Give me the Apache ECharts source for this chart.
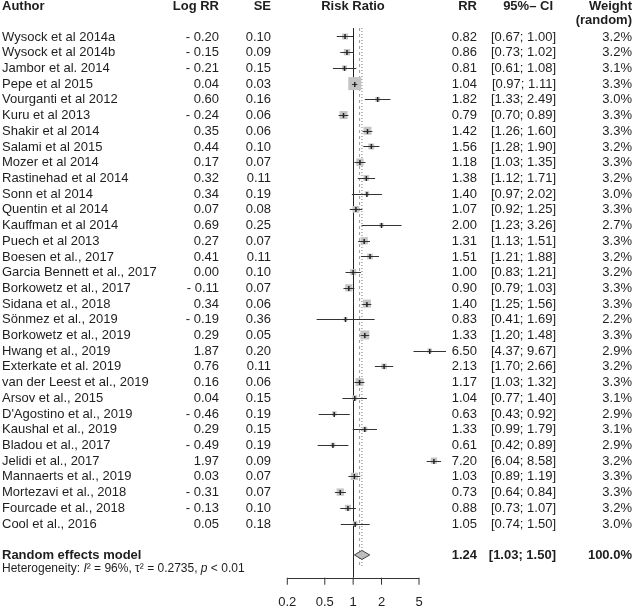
<!DOCTYPE html>
<html>
<head>
<meta charset="utf-8">
<script src="https://cdn.jsdelivr.net/npm/echarts@6/dist/echarts.min.js"></script>
<style>html,body{margin:0;padding:0;background:#fff}#c{width:633px;height:607px}</style>
</head>
<body>
<div id="c"></div>
<script>
const authors = ["Wysock et al 2014a","Wysock et al 2014b","Jambor et al. 2014","Pepe et al 2015","Vourganti et al 2012","Kuru et al 2013","Shakir et al 2014","Salami et al 2015","Mozer et al 2014","Rastinehad et al 2014","Sonn et al 2014","Quentin et al 2014","Kauffman et al 2014","Puech et al 2013","Boesen et al., 2017","Garcia Bennett et al., 2017","Borkowetz et al., 2017","Sidana et al., 2018","Sönmez et al., 2019","Borkowetz et al., 2019","Hwang et al., 2019","Exterkate et al. 2019","van der Leest et al., 2019","Arsov et al., 2015","D'Agostino et al., 2019","Kaushal et al., 2019","Bladou et al., 2017","Jelidi et al., 2017","Mannaerts et al., 2019","Mortezavi et al., 2018","Fourcade et al., 2018","Cool et al., 2016"];
const logRR = [-0.20,-0.15,-0.21,0.04,0.60,-0.24,0.35,0.44,0.17,0.32,0.34,0.07,0.69,0.27,0.41,0.00,-0.11,0.34,-0.19,0.29,1.87,0.76,0.16,0.04,-0.46,0.29,-0.49,1.97,0.03,-0.31,-0.13,0.05];
const seVals = [0.10,0.09,0.15,0.03,0.16,0.06,0.06,0.10,0.07,0.11,0.19,0.08,0.25,0.07,0.11,0.10,0.07,0.06,0.36,0.05,0.20,0.11,0.06,0.15,0.19,0.15,0.19,0.09,0.07,0.07,0.10,0.18];
const rrVals = [0.82,0.86,0.81,1.04,1.82,0.79,1.42,1.56,1.18,1.38,1.40,1.07,2.00,1.31,1.51,1.00,0.90,1.40,0.83,1.33,6.50,2.13,1.17,1.04,0.63,1.33,0.61,7.20,1.03,0.73,0.88,1.05];
const ciLow = [0.67,0.73,0.61,0.97,1.33,0.70,1.26,1.28,1.03,1.12,0.97,0.92,1.23,1.13,1.21,0.83,0.79,1.25,0.41,1.20,4.37,1.70,1.03,0.77,0.43,0.99,0.42,6.04,0.89,0.64,0.73,0.74];
const ciHigh = [1.00,1.02,1.08,1.11,2.49,0.89,1.60,1.90,1.35,1.71,2.02,1.25,3.26,1.51,1.88,1.21,1.03,1.56,1.69,1.48,9.67,2.66,1.32,1.40,0.92,1.79,0.89,8.58,1.19,0.84,1.07,1.50];
const weights = [3.2,3.2,3.1,3.3,3.0,3.3,3.3,3.2,3.3,3.2,3.0,3.3,2.7,3.3,3.2,3.2,3.3,3.3,2.2,3.3,2.9,3.2,3.3,3.1,2.9,3.1,2.9,3.2,3.3,3.3,3.2,3.0];
const pooled = {rr: 1.24, low: 1.03, high: 1.50, weight: 100.0};
const fixedLine = 1.17; // estimated from grey dashed line
const heterogeneity = {I2: "96%", tau2: "0.2735", p: "< 0.01"};
const tickValues = [0.2, 0.5, 1, 2, 5];

const FONT = '"Liberation Sans", Arial, Helvetica, sans-serif';
const TXT = '#1e1e1e';
const n = authors.length;
const ROW_POOLED = n + 1;   // 33
const ROW_HET = n + 1.9;
const ROW_AXIS = n + 2.45;
const ROW_TICKLBL = n + 4.05;

function fmtLog(v){ return v < 0 ? '- ' + Math.abs(v).toFixed(2) : v.toFixed(2); }
function fmtCI(a,b){ return '[' + a.toFixed(2) + '; ' + b.toFixed(2) + ']'; }

function txt(x, y, text, align, bold, size){
  return {type:'text', x:x, y:y, style:{text:text, font:(bold?'bold ':'') + (size||13) + 'px ' + FONT, fill:TXT,
    textAlign:align||'left', align:align||'left', textVerticalAlign:'middle', verticalAlign:'middle'}};
}

const COL = {author:2, log:219, se:271, rr:477, ci:556, w:632, plot:353};

const studyData = rrVals.map((v,i)=>[v, ciLow[i], ciHigh[i], i, seVals[i]]);
const tableData = authors.map((a,i)=>[1, i]);

const option = {
  animation:false,
  grid:{left:287.3, width:131.7, top:5.08, height:38*15.71},
  xAxis:{type:'log', logBase:10, min:0.2, max:5, show:false},
  yAxis:{type:'value', inverse:true, min:-2, max:36, show:false},
  series:[
    { // reference lines
      type:'custom', clip:false, z:1,
      data:[[0]],
      renderItem:function(params, api){
        const solidTop = api.coord([1, -0.54]), solidBot = api.coord([1, ROW_AXIS]);
        const dTop = api.coord([pooled.rr, -0.54]), dBot = api.coord([pooled.rr, n + 1.8]);
        const fTop = api.coord([fixedLine, -0.54]), fBot = api.coord([fixedLine, n + 1.8]);
        return {type:'group', children:[
          {type:'line', shape:{x1:fTop[0],y1:fTop[1],x2:fBot[0],y2:fBot[1]}, style:{stroke:'#9a9a9a', lineWidth:1, lineDash:[3,3]}},
          {type:'line', shape:{x1:dTop[0],y1:dTop[1],x2:dBot[0],y2:dBot[1]}, style:{stroke:'#777', lineWidth:1, lineDash:[1,2]}},
          {type:'line', shape:{x1:Math.round(solidTop[0])+0.5,y1:solidTop[1],x2:Math.round(solidBot[0])+0.5,y2:solidBot[1]}, style:{stroke:'#222', lineWidth:1}}
        ]};
      }
    },
    { // studies
      type:'custom', clip:false, z:3,
      data:studyData,
      renderItem:function(params, api){
        const rr = api.value(0), lo = api.value(1), hi = api.value(2), row = api.value(3), se = api.value(4);
        const p = api.coord([rr,row]), a = api.coord([lo,row]), b = api.coord([hi,row]);
        const side = 3 + 0.3/se;
        const y = Math.round(p[1]) + 0.5;
        return {type:'group', children:[
          {type:'rect', shape:{x:p[0]-side/2, y:p[1]-side/2, width:side, height:side}, style:{fill:'#c4c4c4'}},
          {type:'line', shape:{x1:a[0],y1:y,x2:b[0],y2:y}, style:{stroke:'#333', lineWidth:1}},
          {type:'line', shape:{x1:p[0],y1:y-2.5,x2:p[0],y2:y+2.5}, style:{stroke:'#222', lineWidth:1.5}}
        ]};
      }
    },
    { // pooled diamond
      type:'custom', clip:false, z:3,
      data:[[pooled.rr, pooled.low, pooled.high, ROW_POOLED]],
      renderItem:function(params, api){
        const c = api.coord([api.value(0), api.value(3)]), a = api.coord([api.value(1), api.value(3)]), b = api.coord([api.value(2), api.value(3)]);
        return {type:'polygon', shape:{points:[[a[0],c[1]],[c[0],c[1]-4.5],[b[0],c[1]],[c[0],c[1]+4.5]]}, style:{fill:'#bdbdbd', stroke:'#444', lineWidth:1}};
      }
    },
    { // x axis
      type:'custom', clip:false, z:3,
      data:tickValues.map(t=>[t]),
      renderItem:function(params, api){
        const t = api.value(0);
        const p = api.coord([t, ROW_AXIS]);
        const lp = api.coord([t, ROW_TICKLBL]);
        const ch = [
          {type:'line', shape:{x1:p[0],y1:p[1],x2:p[0],y2:p[1]+7}, style:{stroke:'#333', lineWidth:1}},
          txt(p[0], lp[1], String(t), 'center', false, 13)
        ];
        if (params.dataIndex === 0) {
          const e = api.coord([tickValues[tickValues.length-1], ROW_AXIS]);
          ch.push({type:'line', shape:{x1:p[0],y1:Math.round(p[1])+0.5,x2:e[0],y2:Math.round(p[1])+0.5}, style:{stroke:'#333', lineWidth:1}});
        }
        return {type:'group', children:ch};
      }
    },
    { // table text
      type:'custom', clip:false, z:4,
      data:tableData,
      renderItem:function(params, api){
        const i = params.dataIndex;
        const y = api.coord([1, api.value(1)])[1] + 0.5;
        return {type:'group', children:[
          txt(COL.author, y, authors[i], 'left'),
          txt(COL.log, y, fmtLog(logRR[i]), 'right'),
          txt(COL.se, y, seVals[i].toFixed(2), 'right'),
          txt(COL.rr, y, rrVals[i].toFixed(2), 'right'),
          txt(COL.ci, y, fmtCI(ciLow[i], ciHigh[i]), 'right'),
          txt(COL.w, y, weights[i].toFixed(1) + '%', 'right')
        ]};
      }
    },
    { // header, pooled row, heterogeneity
      type:'custom', clip:false, z:4,
      data:[[0]],
      renderItem:function(params, api){
        const yh = api.coord([1, -1.94])[1];
        const yh2 = api.coord([1, -1.05])[1];
        const yp = api.coord([1, ROW_POOLED])[1] + 0.5;
        const yhet = api.coord([1, ROW_HET])[1];
        return {type:'group', children:[
          txt(COL.author, yh, 'Author', 'left', true),
          txt(COL.log, yh, 'Log RR', 'right', true),
          txt(COL.se, yh, 'SE', 'right', true),
          txt(COL.plot, yh, 'Risk Ratio', 'center', true),
          txt(COL.rr, yh, 'RR', 'right', true),
          txt(553, yh, '95%\u2013 CI', 'right', true),
          txt(COL.w, yh, 'Weight', 'right', true),
          txt(COL.w, yh2, '(random)', 'right', true),
          txt(COL.author, yp, 'Random effects model', 'left', true),
          txt(COL.rr, yp, pooled.rr.toFixed(2), 'right', true),
          txt(COL.ci, yp, fmtCI(pooled.low, pooled.high), 'right', true),
          txt(COL.w, yp, pooled.weight.toFixed(1) + '%', 'right', true),
          {type:'text', x:COL.author, y:yhet, style:{
            text:'{n|Heterogeneity: }{i|I}{n|\u00b2 = ' + heterogeneity.I2 + ', \u03c4\u00b2 = ' + heterogeneity.tau2 + ', }{i|p}{n| ' + heterogeneity.p + '}',
            textAlign:'left', align:'left', textVerticalAlign:'middle', verticalAlign:'middle',
            rich:{
              n:{fontFamily:FONT, fontSize:12, fill:TXT, color:TXT},
              i:{fontFamily:FONT, fontSize:12, fontStyle:'italic', fill:TXT, color:TXT}
            }
          }}
        ]};
      }
    }
  ]
};
const chart = echarts.init(document.getElementById('c'), null, {renderer:'canvas'});
chart.setOption(option);
</script>
</body>
</html>
